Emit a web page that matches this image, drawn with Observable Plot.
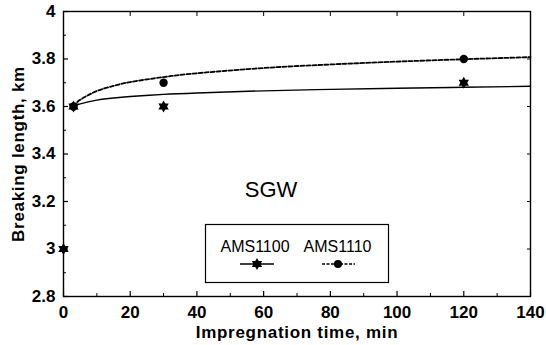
<!DOCTYPE html>
<html><head><meta charset="utf-8">
<script src="https://cdn.jsdelivr.net/npm/d3@7"></script>
<script src="https://cdn.jsdelivr.net/npm/@observablehq/plot@0.6"></script>
<style>
body{margin:0;background:#fff;}
#wrap{position:relative;width:546px;height:345px;font-family:"Liberation Sans",Arial,sans-serif;}
#wrap svg{display:block;}
#overlay{position:absolute;left:0;top:0;pointer-events:none;}
g[aria-label="x-axis label"] text, g[aria-label="y-axis label"] text{letter-spacing:0.7px;}
</style></head><body><div id="wrap"></div>
<script>
// ---- data ----
const seriesNames = ["AMS1100", "AMS1110"];
const ams1100Time = [0, 3, 30, 120];
const ams1100Length = [3.0, 3.6, 3.6, 3.7];
const ams1110Time = [3, 30, 120];
const ams1110Length = [3.6, 3.7, 3.8];
const fitTime = [3, 5, 10, 15, 20, 30, 40, 60, 80, 100, 120, 140];
const ams1100Fit = [3.600, 3.611, 3.627, 3.636, 3.642, 3.651, 3.657, 3.666, 3.672, 3.677, 3.681, 3.685];
const ams1110Fit = [3.600, 3.628, 3.665, 3.687, 3.703, 3.724, 3.740, 3.762, 3.777, 3.789, 3.799, 3.808];
const xTicks = [0, 20, 40, 60, 80, 100, 120, 140];
const xMinorTicks = [10, 30, 50, 70, 90, 110, 130];
const yTicks = [2.8, 3.0, 3.2, 3.4, 3.6, 3.8, 4.0];
const yMinorTicks = [2.9, 3.1, 3.3, 3.5, 3.7, 3.9];
const panelLabel = "SGW";
const xTitle = "Impregnation time, min";
const yTitle = "Breaking length, km";

const pts1100 = ams1100Time.map((t, i) => ({t, v: ams1100Length[i]}));
const pts1110 = ams1110Time.map((t, i) => ({t, v: ams1110Length[i]}));
const fit1100 = fitTime.map((t, i) => ({t, v: ams1100Fit[i]}));
const fit1110 = fitTime.map((t, i) => ({t, v: ams1110Fit[i]}));

// six-pointed star symbol
const hexStar = {
  draw(ctx, size) {
    const R = Math.sqrt(size / Math.PI) * 1.2, r = R / Math.sqrt(3);
    for (let i = 0; i < 12; i++) {
      const a = i * Math.PI / 6 - Math.PI / 2, rr = i % 2 ? r : R;
      const x = rr * Math.cos(a), y = rr * Math.sin(a);
      i ? ctx.lineTo(x, y) : ctx.moveTo(x, y);
    }
    ctx.closePath();
  }
};
const fmtY = d => String(+d.toFixed(1));

const chart = Plot.plot({
  width: 546, height: 345,
  marginLeft: 63, marginRight: 16, marginTop: 11, marginBottom: 49,
  style: {fontFamily: '"Liberation Sans", Arial, sans-serif', fontSize: "17px", fontWeight: "bold", color: "black", background: "white"},
  x: {domain: [0, 140]},
  y: {domain: [2.8, 4.0]},
  marks: [
    Plot.axisX({ticks: xTicks, tickSize: -5, tickPadding: 14, strokeWidth: 1.2, fontSize: 17, label: xTitle, labelAnchor: "center", labelOffset: 41, labelArrow: false}),
    Plot.axisX({ticks: xMinorTicks, tickSize: -3, text: null, label: null, strokeWidth: 1}),
    Plot.axisX({anchor: "top", ticks: xTicks, tickSize: -4, text: null, label: null, strokeWidth: 1}),
    Plot.axisY({ticks: yTicks, tickSize: -5, tickPadding: 13, tickFormat: fmtY, strokeWidth: 1.2, fontSize: 17, label: yTitle, labelAnchor: "center", labelOffset: 52, labelArrow: false}),
    Plot.axisY({ticks: yMinorTicks, tickSize: -3, text: null, label: null, strokeWidth: 1}),
    Plot.axisY({anchor: "right", ticks: yTicks, tickSize: -4, text: null, label: null, strokeWidth: 1}),
    Plot.frame({stroke: "black", strokeWidth: 1.4}),
    Plot.line(fit1100, {x: "t", y: "v", curve: "natural", stroke: "black", strokeWidth: 1.4}),
    Plot.line(fit1110, {x: "t", y: "v", curve: "natural", stroke: "black", strokeWidth: 1.8, strokeDasharray: "4,2"}),
    Plot.dot(pts1110, {x: "t", y: "v", r: 4.2, fill: "black", stroke: "none"}),
    Plot.dot(pts1100, {x: "t", y: "v", r: 5, symbol: hexStar, fill: "black", stroke: "none"})
  ]
});
const wrap = document.getElementById("wrap");
wrap.appendChild(chart);

// overlay: panel label and legend box
const ov = d3.select(wrap).append("svg").attr("id", "overlay").attr("width", 546).attr("height", 345)
  .style("font-family", '"Liberation Sans", Arial, sans-serif');
ov.append("text").attr("x", 271).attr("y", 197).attr("text-anchor", "middle").attr("font-size", 22).text(panelLabel);
ov.append("rect").attr("x", 205.5).attr("y", 224.5).attr("width", 183).attr("height", 58).attr("fill", "white").attr("stroke", "black").attr("stroke-width", 1.2);
const legItems = [
  {name: seriesNames[0], tx: 255, x1: 240, x2: 274, mx: 257, dash: null, star: true},
  {name: seriesNames[1], tx: 337.5, x1: 322, x2: 355, mx: 338, dash: "3,1.5", star: false}
];
legItems.forEach(d => {
  ov.append("text").attr("x", d.tx).attr("y", 252).attr("text-anchor", "middle").attr("font-size", 16).attr("font-weight", 500).text(d.name);
  const l = ov.append("line").attr("x1", d.x1).attr("x2", d.x2).attr("y1", 264).attr("y2", 264).attr("stroke", "black").attr("stroke-width", 1.4);
  if (d.dash) l.attr("stroke-dasharray", d.dash);
  if (d.star) ov.append("path").attr("d", d3.symbol(hexStar, 78.5)()).attr("transform", `translate(${d.mx},264)`).attr("fill", "black");
  else ov.append("circle").attr("cx", d.mx).attr("cy", 264).attr("r", 4).attr("fill", "black");
});
</script></body></html>
